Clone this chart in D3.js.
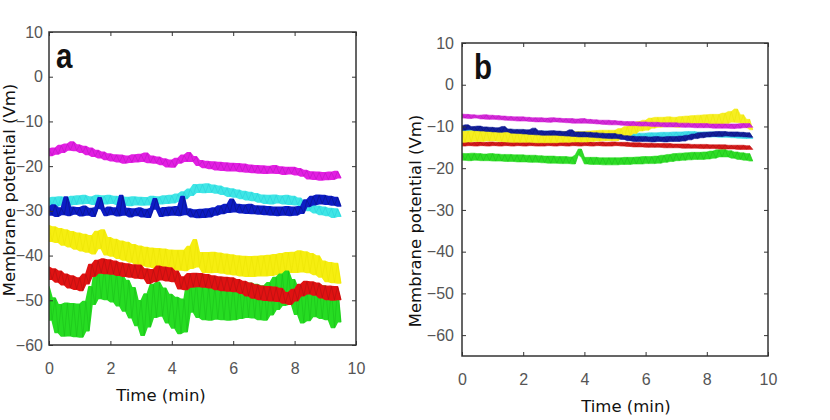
<!DOCTYPE html>
<html><head><meta charset="utf-8">
<script src="https://cdn.jsdelivr.net/npm/d3@7"></script>
<style>
html,body{margin:0;padding:0;background:#fff;}
svg{display:block;}
</style></head>
<body><svg id="c" width="830" height="420"></svg>
<script>
// sampling times (min)
const timeMin = [0,0.1,0.2,0.3,0.4,0.5,0.6,0.7,0.8,0.9,1,1.1,1.2,1.3,1.4,1.5,1.6,1.7,1.8,1.9,2,2.1,2.2,2.3,2.4,2.5,2.6,2.7,2.8,2.9,3,3.1,3.2,3.3,3.4,3.5,3.6,3.7,3.8,3.9,4,4.1,4.2,4.3,4.4,4.5,4.6,4.7,4.8,4.9,5,5.1,5.2,5.3,5.4,5.5,5.6,5.7,5.8,5.9,6,6.1,6.2,6.3,6.4,6.5,6.6,6.7,6.8,6.9,7,7.1,7.2,7.3,7.4,7.5,7.6,7.7,7.8,7.9,8,8.1,8.2,8.3,8.4,8.5,8.6,8.7,8.8,8.9,9,9.1,9.2,9.3,9.4,9.5];

const xTicks = [0,2,4,6,8,10];
const yTicks = [-60,-50,-40,-30,-20,-10,0,10];

// Panel a (mV)
const aMagenta = [-16.2,-17.6,-16.0,-17.3,-15.4,-16.9,-15.1,-16.4,-14.6,-16.5,
-15.3,-16.9,-15.6,-17.4,-16.0,-17.8,-16.5,-18.1,-16.9,-18.5,
-17.3,-18.8,-17.5,-19.0,-17.6,-19.3,-17.8,-19.1,-17.5,-19.0,
-17.4,-18.9,-17.1,-19.2,-17.8,-19.3,-18.0,-19.6,-18.4,-20.1,
-18.7,-20.2,-18.3,-19.3,-17.6,-18.9,-17.0,-18.9,-17.9,-19.8,
-18.8,-20.3,-19.0,-20.5,-19.1,-20.8,-19.2,-20.9,-19.3,-21.0,
-19.4,-21.0,-19.5,-21.2,-19.6,-21.3,-19.8,-21.4,-19.9,-21.5,
-20.0,-21.6,-20.1,-21.5,-19.9,-21.6,-20.2,-21.8,-20.3,-21.7,
-20.3,-21.9,-20.6,-22.2,-21.0,-22.8,-21.3,-22.9,-21.4,-23.1,
-21.5,-23.0,-21.4,-22.9,-21.2,-22.6];
const aCyan = [-27.2,-28.8,-27.0,-28.9,-26.9,-28.6,-27.1,-28.7,-26.8,-28.5,
-26.7,-28.4,-26.6,-28.3,-26.9,-28.5,-26.6,-28.2,-26.7,-28.4,
-26.6,-28.3,-26.8,-28.6,-26.9,-28.7,-27.0,-28.8,-26.9,-28.6,
-27.0,-28.7,-27.1,-28.6,-26.8,-28.5,-26.9,-28.4,-26.7,-28.3,
-26.6,-28.2,-26.3,-27.8,-25.8,-27.2,-25.2,-26.5,-24.2,-25.8,
-24.1,-25.9,-24.0,-25.8,-24.3,-26.0,-24.5,-26.3,-24.9,-26.7,
-25.1,-26.9,-25.4,-27.2,-25.7,-27.5,-25.9,-27.7,-26.2,-28.0,
-26.5,-28.3,-26.6,-28.4,-26.5,-28.2,-26.7,-28.4,-26.6,-28.5,
-26.8,-28.6,-27.2,-29.1,-28.0,-29.9,-28.5,-30.4,-29.0,-30.8,
-29.2,-31.0,-29.5,-31.4,-29.6,-31.2];
const aBlue = [-29.1,-30.9,-28.7,-31.2,-29.4,-30.8,-26.9,-31.0,-29.2,-30.7,
-29.3,-31.1,-29.0,-30.9,-29.5,-31.2,-29.3,-27.1,-29.6,-31.0,
-29.2,-30.8,-29.4,-31.1,-26.6,-30.9,-29.5,-31.3,-29.6,-31.0,
-29.4,-31.3,-29.7,-31.4,-29.5,-27.3,-29.6,-31.2,-29.3,-31.0,
-29.2,-30.9,-29.1,-31.0,-26.8,-30.8,-29.6,-31.3,-29.8,-31.5,
-29.7,-31.4,-29.6,-31.3,-29.4,-30.9,-28.9,-30.6,-28.6,-30.3,
-27.4,-30.2,-28.6,-30.4,-28.7,-30.5,-28.6,-30.6,-28.9,-30.7,
-29.0,-30.8,-29.1,-30.9,-29.2,-31.0,-29.2,-30.9,-29.1,-31.0,
-29.2,-30.9,-29.1,-30.5,-27.6,-29.0,-26.8,-28.6,-26.5,-28.4,
-26.6,-28.5,-26.8,-28.7,-27.0,-28.9];
const aYellow = [-33.3,-36.8,-33.6,-37.0,-34.0,-37.6,-34.3,-38.0,-34.7,-38.5,
-35.0,-38.9,-35.3,-39.2,-35.6,-39.6,-34.6,-38.4,-34.3,-39.8,
-36.0,-40.1,-36.4,-40.6,-36.8,-41.0,-37.1,-41.4,-37.6,-41.9,
-37.9,-42.2,-38.2,-42.5,-38.4,-42.7,-38.5,-42.9,-38.6,-43.0,
-38.8,-43.1,-38.9,-43.2,-38.9,-43.3,-38.0,-42.8,-36.5,-42.5,
-39.4,-43.7,-39.4,-43.8,-39.3,-43.7,-39.5,-43.9,-39.7,-44.1,
-39.9,-44.3,-40.1,-44.5,-40.2,-44.6,-40.3,-44.6,-40.2,-44.5,
-40.1,-44.5,-40.0,-44.4,-39.8,-44.2,-39.6,-43.9,-39.4,-43.7,
-39.3,-43.7,-39.0,-43.6,-39.2,-43.8,-39.6,-44.2,-40.1,-44.8,
-41.3,-45.8,-41.6,-46.0,-41.8,-46.1];
const aRed = [-42.6,-45.3,-43.0,-45.9,-43.5,-46.5,-44.2,-47.2,-44.6,-47.5,
-45.0,-47.8,-44.2,-46.3,-42.0,-44.6,-41.1,-43.9,-40.8,-44.0,
-41.0,-44.1,-41.3,-44.4,-41.7,-44.6,-41.9,-44.8,-42.1,-45.0,
-42.2,-45.1,-43.0,-46.2,-43.2,-45.8,-42.4,-45.4,-42.6,-45.6,
-42.8,-45.8,-43.5,-47.4,-44.8,-47.6,-44.1,-47.0,-44.0,-46.9,
-44.1,-47.0,-44.3,-47.2,-44.6,-47.6,-44.8,-47.8,-44.9,-47.9,
-45.0,-48.0,-45.4,-48.4,-45.8,-49.0,-46.2,-49.5,-46.6,-49.8,
-46.9,-50.0,-47.0,-50.1,-47.1,-50.2,-47.4,-50.6,-48.3,-50.9,
-47.6,-50.1,-46.5,-49.0,-45.8,-48.5,-45.9,-48.8,-46.2,-49.4,
-46.8,-49.8,-46.9,-49.9,-47.0,-49.8];
const aGreen = [-47.0,-54.4,-49.5,-57.2,-51.0,-58.0,-50.7,-57.9,-50.8,-58.1,
-50.9,-58.2,-50.3,-56.8,-47.0,-50.9,-42.3,-49.6,-42.5,-49.8,
-42.8,-50.3,-43.6,-51.2,-44.3,-52.4,-45.6,-53.9,-47.2,-55.6,
-50.1,-57.8,-48.6,-55.9,-46.5,-53.8,-46.0,-53.5,-47.3,-55.0,
-48.7,-56.2,-49.4,-57.4,-49.8,-57.0,-45.4,-52.6,-45.6,-53.8,
-46.7,-54.3,-46.8,-54.4,-46.9,-54.2,-46.8,-54.3,-46.7,-54.4,
-46.6,-54.3,-46.4,-54.0,-46.3,-53.8,-46.2,-53.9,-46.5,-54.3,
-46.8,-54.4,-46.1,-53.2,-44.9,-52.0,-44.2,-51.1,-43.5,-50.9,
-45.4,-53.1,-47.2,-55.0,-47.3,-54.5,-46.3,-53.6,-46.5,-54.0,
-46.8,-54.3,-47.8,-56.1,-47.4,-54.8];

// Panel b (mV)
const bMagenta = [-7.0,-8.0,-7.1,-8.1,-7.2,-8.0,-7.3,-8.2,-7.2,-8.3,
-7.3,-8.3,-7.4,-8.4,-7.5,-8.5,-7.6,-8.6,-7.7,-8.7,
-7.7,-8.7,-7.8,-8.8,-7.9,-8.9,-7.9,-8.9,-8.0,-9.0,
-7.9,-8.9,-8.0,-9.0,-8.1,-9.1,-8.1,-9.2,-8.2,-9.2,
-8.1,-9.2,-8.3,-9.3,-8.4,-9.4,-8.5,-9.5,-8.5,-9.6,
-8.6,-9.6,-8.7,-9.7,-8.8,-9.8,-8.8,-9.8,-8.9,-9.9,
-8.9,-9.9,-9.0,-10.0,-9.0,-10.0,-9.1,-10.1,-9.1,-10.1,
-9.1,-10.1,-9.2,-10.2,-9.2,-10.2,-9.3,-10.3,-9.3,-10.3,
-9.3,-10.3,-9.4,-10.4,-9.4,-10.4,-9.4,-10.4,-9.4,-10.5,
-9.4,-10.4,-9.3,-10.3,-9.3,-10.2];
const bBlue = [-9.8,-10.9,-9.6,-10.8,-10.0,-11.0,-9.9,-11.1,-10.1,-11.2,
-10.2,-11.3,-10.3,-11.4,-10.0,-11.3,-10.6,-11.6,-10.7,-11.7,
-10.7,-11.8,-10.8,-11.9,-10.4,-12.0,-11.0,-12.1,-11.1,-12.1,
-11.0,-12.1,-11.1,-12.2,-11.2,-12.3,-10.8,-12.4,-11.3,-12.5,
-11.3,-12.5,-11.4,-12.6,-11.5,-12.7,-11.6,-12.8,-11.7,-12.9,
-11.7,-12.9,-11.9,-13.1,-12.2,-13.4,-12.3,-13.6,-12.4,-13.6,
-12.4,-13.6,-12.5,-13.7,-12.4,-13.6,-12.5,-13.7,-12.4,-13.6,
-12.4,-13.6,-12.3,-13.5,-12.1,-13.2,-11.8,-12.9,-11.5,-12.7,
-11.4,-12.5,-11.3,-12.4,-11.2,-12.4,-11.2,-12.3,-11.3,-12.4,
-11.3,-12.4,-11.4,-12.5,-11.5,-12.6];
const bCyan = [-10.4,-11.6,-10.5,-11.6,-10.5,-11.7,-10.6,-11.7,-10.6,-11.8,
-10.7,-11.8,-10.7,-11.9,-10.8,-11.9,-10.8,-12.0,-10.9,-12.0,
-10.9,-12.1,-11.0,-12.1,-11.0,-12.2,-11.1,-12.2,-11.1,-12.3,
-11.2,-12.3,-11.2,-12.4,-11.3,-12.4,-11.3,-12.5,-11.4,-12.5,
-11.4,-12.6,-11.5,-12.6,-11.5,-12.7,-11.6,-12.7,-11.6,-12.8,
-11.7,-12.8,-11.7,-12.9,-11.7,-12.9,-11.7,-12.9,-11.6,-12.8,
-11.6,-12.8,-11.5,-12.7,-11.5,-12.6,-11.4,-12.6,-11.4,-12.5,
-11.3,-12.5,-11.3,-12.4,-11.2,-12.4,-11.2,-12.4,-11.3,-12.4,
-11.3,-12.5,-11.3,-12.5,-11.4,-12.6,-11.4,-12.6,-11.5,-12.7,
-11.5,-12.8,-11.6,-12.9,-11.7,-12.9];
const bYellow = [-11.2,-13.8,-11.1,-13.7,-11.0,-13.6,-11.1,-13.6,-11.0,-13.5,
-11.0,-13.5,-11.1,-13.6,-11.2,-13.7,-11.2,-13.8,-11.2,-13.8,
-11.2,-13.8,-11.3,-13.8,-11.3,-13.9,-11.3,-13.9,-11.4,-13.9,
-11.3,-13.9,-11.3,-13.8,-11.2,-13.8,-11.2,-13.7,-11.2,-13.7,
-11.2,-13.7,-11.1,-13.6,-11.0,-13.5,-10.9,-13.4,-10.9,-13.4,
-10.9,-13.4,-10.5,-12.9,-10.0,-12.3,-9.4,-11.7,-8.8,-11.1,
-8.5,-10.9,-8.0,-10.4,-7.8,-10.2,-7.8,-10.1,-7.7,-10.1,
-7.8,-10.2,-7.6,-10.0,-7.5,-9.9,-7.4,-9.8,-7.3,-9.7,
-7.2,-9.6,-7.1,-9.6,-7.1,-9.6,-6.8,-9.3,-6.4,-9.0,
-5.8,-9.1,-7.2,-10.2,-8.3,-10.8];
const bRed = [-13.8,-14.7,-13.7,-14.6,-13.8,-14.7,-13.7,-14.6,-13.8,-14.7,
-13.7,-14.6,-13.8,-14.7,-13.7,-14.6,-13.8,-14.7,-13.7,-14.6,
-13.8,-14.7,-13.7,-14.6,-13.8,-14.7,-13.7,-14.7,-13.8,-14.6,
-13.7,-14.7,-13.8,-14.6,-13.7,-14.7,-13.8,-14.6,-13.7,-14.7,
-13.8,-14.6,-13.7,-14.7,-13.8,-14.6,-13.7,-14.7,-13.8,-14.7,
-13.7,-14.6,-13.8,-14.7,-13.8,-14.8,-13.9,-14.9,-13.9,-14.9,
-14.0,-15.0,-14.0,-15.0,-14.1,-15.0,-14.1,-15.1,-14.1,-15.1,
-14.2,-15.1,-14.2,-15.2,-14.2,-15.2,-14.3,-15.2,-14.3,-15.3,
-14.3,-15.3,-14.4,-15.3,-14.4,-15.4,-14.4,-15.4,-14.5,-15.4,
-14.5,-15.5,-14.5,-15.5,-14.6,-15.5];
const bGreen = [-16.4,-18.1,-16.5,-18.2,-16.4,-18.1,-16.5,-18.2,-16.6,-18.2,
-16.5,-18.3,-16.6,-18.3,-16.7,-18.4,-16.7,-18.4,-16.8,-18.5,
-16.8,-18.5,-16.9,-18.6,-16.9,-18.6,-17.0,-18.7,-17.1,-18.8,
-17.1,-18.8,-17.2,-18.9,-17.2,-18.9,-17.3,-19.0,-16.8,-15.4,
-17.4,-19.0,-17.4,-19.1,-17.4,-19.1,-17.5,-19.2,-17.5,-19.2,
-17.5,-19.2,-17.5,-19.1,-17.4,-19.1,-17.4,-19.0,-17.3,-19.0,
-17.2,-18.9,-17.2,-18.9,-17.1,-18.8,-16.9,-18.6,-16.7,-18.4,
-16.5,-18.2,-16.4,-18.1,-16.3,-18.0,-16.2,-17.9,-16.2,-17.9,
-16.1,-17.8,-15.9,-17.6,-15.6,-17.3,-15.5,-17.3,-15.8,-17.6,
-16.1,-17.9,-16.3,-18.1,-16.5,-18.3];

const COLORS_A = {magenta:"#e21fe2", cyan:"#3fe6e6", blue:"#0d1cc4", yellow:"#f6ee10", red:"#e01212", green:"#26dc22"};
const COLORS_B = {magenta:"#d42ad8", cyan:"#3fdbe8", blue:"#14209a", yellow:"#f6ee22", red:"#d41a1a", green:"#2edc26"};
const SPIKE = {magenta:"#b010b8", cyan:"#22c8d8", blue:"#08106e", yellow:"#e8e000", red:"#a01010", green:"#18b818"};

const panels = [
  {label:"a", x0:49, x1:356, y0:345, y1:32, yDomain:[-60,10], labelPadY:6, colors:COLORS_A,
   series:[["yellow",aYellow],["green",aGreen],["red",aRed],["cyan",aCyan],["blue",aBlue],["magenta",aMagenta]],
   tlab:[161,401], ylab:[15,190], plab:[56,68], sw:1.6},
  {label:"b", x0:462, x1:768, y0:356, y1:43, yDomain:[-65,10], labelPadY:8, colors:COLORS_B,
   series:[["green",bGreen],["red",bRed],["cyan",bCyan],["yellow",bYellow],["blue",bBlue],["magenta",bMagenta]],
   tlab:[626,412], ylab:[421,221], plab:[474,79], sw:0.6}
];

const svg = d3.select("#c");
const tickFont = "'Liberation Sans Narrow','Arial Narrow','Liberation Sans',Arial,sans-serif";
const labFont = "'DejaVu Sans',Verdana,sans-serif";

panels.forEach(p => {
  const x = d3.scaleLinear().domain([0,10]).range([p.x0,p.x1]);
  const y = d3.scaleLinear().domain(p.yDomain).range([p.y0,p.y1]);
  const g = svg.append("g");

  // traces: local min/max envelope of consecutive samples + raw trace
  const clipId = "clip"+p.label;
  svg.append("clipPath").attr("id",clipId).append("rect")
     .attr("x",p.x0).attr("y",p.y1).attr("width",p.x1-p.x0).attr("height",p.y0-p.y1);
  const nb = (vals,i) => vals[Math.min(i+1, vals.length-1)];
  const tg = g.append("g").attr("clip-path",`url(#${clipId})`);
  p.series.forEach(([c,vals]) => {
    const area = d3.area()
      .x((d,i)=>x(timeMin[i]))
      .y0((d,i)=>y(Math.min(d, nb(vals,i))))
      .y1((d,i)=>y(Math.max(d, nb(vals,i))));
    tg.append("path").datum(vals).attr("d",area)
      .attr("fill",p.colors[c]).attr("stroke",p.colors[c]).attr("stroke-width",p.sw)
      .attr("stroke-linejoin","round");
    const line = d3.line().x((d,i)=>x(timeMin[i])).y(d=>y(d));
    tg.append("path").datum(vals).attr("d",line)
      .attr("fill","none").attr("stroke",SPIKE[c]).attr("stroke-width",0.8).attr("stroke-opacity",0.55);
  });

  // axes
  const styleAxis = (sel, labels) => {
    sel.select(".domain").remove();
    sel.selectAll(".tick line").attr("stroke","#333").attr("stroke-width",1);
    sel.selectAll(".tick text").attr("fill","#555").style("font-family",tickFont).style("font-size","16px");
    if(!labels) sel.selectAll(".tick text").remove();
  };
  g.append("g").attr("transform",`translate(0,${p.y0})`)
    .call(d3.axisBottom(x).tickValues(xTicks).tickSizeInner(-4).tickSizeOuter(0).tickPadding(18).tickFormat(d3.format("d")))
    .call(s=>styleAxis(s,true));
  g.append("g").attr("transform",`translate(0,${p.y1})`)
    .call(d3.axisTop(x).tickValues(xTicks).tickSizeInner(-4).tickSizeOuter(0))
    .call(s=>styleAxis(s,false));
  g.append("g").attr("transform",`translate(${p.x0},0)`)
    .call(d3.axisLeft(y).tickValues(yTicks).tickSizeInner(-4).tickSizeOuter(0).tickPadding(p.labelPadY).tickFormat(d3.format("d")))
    .call(s=>styleAxis(s,true));
  g.append("g").attr("transform",`translate(${p.x1},0)`)
    .call(d3.axisRight(y).tickValues(yTicks).tickSizeInner(-4).tickSizeOuter(0))
    .call(s=>styleAxis(s,false));

  // frame
  g.append("rect").attr("x",p.x0).attr("y",p.y1).attr("width",p.x1-p.x0).attr("height",p.y0-p.y1)
    .attr("fill","none").attr("stroke","#333").attr("stroke-width",1.5);

  // labels
  g.append("text").attr("x",p.tlab[0]).attr("y",p.tlab[1]).attr("text-anchor","middle")
    .style("font-family",labFont).style("font-size","16.5px").attr("fill","#111").text("Time (min)");
  g.append("text").attr("transform",`translate(${p.ylab[0]},${p.ylab[1]}) rotate(-90)`).attr("text-anchor","middle")
    .style("font-family",labFont).style("font-size","16.5px").attr("fill","#111").text("Membrane potential (Vm)");
  g.append("text").attr("transform",`translate(${p.plab[0]},${p.plab[1]}) scale(0.82,1)`)
    .style("font-family",tickFont).style("font-weight","bold").style("font-size","36px").attr("fill","#111").text(p.label);
});
</script>
</body></html>
